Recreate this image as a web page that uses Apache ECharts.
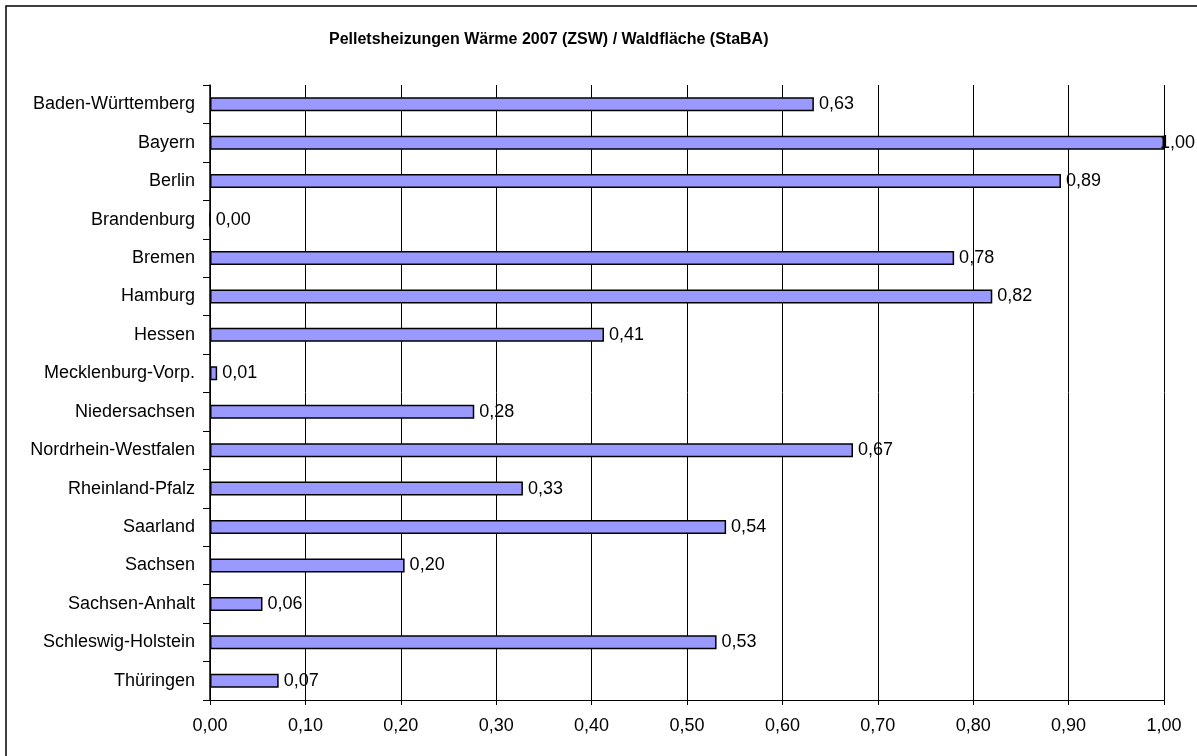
<!DOCTYPE html>
<html>
<head>
<meta charset="utf-8">
<script src="https://cdn.jsdelivr.net/npm/echarts@6/dist/echarts.min.js"></script>
<style>
  html, body { margin: 0; padding: 0; background: #fff; }
  #chart { width: 1197px; height: 756px; }
</style>
</head>
<body>
<div id="chart"></div>
<script>
var laender = ['Baden-Württemberg', 'Bayern', 'Berlin', 'Brandenburg', 'Bremen', 'Hamburg',
    'Hessen', 'Mecklenburg-Vorp.', 'Niedersachsen', 'Nordrhein-Westfalen', 'Rheinland-Pfalz',
    'Saarland', 'Sachsen', 'Sachsen-Anhalt', 'Schleswig-Holstein', 'Thüringen'];
var werte = [0.633, 1.0, 0.892, 0.0, 0.78, 0.82, 0.413, 0.0075, 0.277, 0.674, 0.328,
    0.541, 0.204, 0.055, 0.531, 0.072];

function komma(v) {
    return v.toFixed(2).replace('.', ',');
}

// label of the full-length bar sits on the axis end, like in the original
var balken = werte.map(function (v) {
    if (v >= 1) return { value: v, label: { distance: -4 } };
    return v;
});

var chart = echarts.init(document.getElementById('chart'));
var option = {
    animation: false,
    textStyle: { fontFamily: 'Liberation Sans, Arial, sans-serif' },
    title: {
        text: 'Pelletsheizungen Wärme 2007 (ZSW) / Waldfläche (StaBA)',
        left: 324,
        top: 27,
        textStyle: { fontSize: 16, fontWeight: 'bold', color: '#000' }
    },
    graphic: [{
        type: 'rect',
        shape: { x: 6, y: 6, width: 1200, height: 760 },
        style: { fill: null, stroke: '#000', lineWidth: 1.5 },
        silent: true
    }],
    grid: { left: 210, right: 33, top: 85, bottom: 56 },
    xAxis: {
        type: 'value',
        min: 0,
        max: 1,
        interval: 0.1,
        axisLine: { show: true, lineStyle: { color: '#000', width: 1 } },
        axisTick: { show: true, length: 5, lineStyle: { color: '#000' } },
        splitLine: { show: true, lineStyle: { color: '#000', width: 1 } },
        axisLabel: {
            fontSize: 18,
            color: '#000',
            margin: 17,
            formatter: function (v) { return komma(v); }
        }
    },
    yAxis: {
        type: 'category',
        inverse: true,
        data: laender,
        axisLine: { show: true, lineStyle: { color: '#000', width: 1.5 } },
        axisTick: { show: true, length: 7, lineStyle: { color: '#000' } },
        axisLabel: { fontSize: 18, color: '#000', margin: 15 }
    },
    series: [{
        type: 'bar',
        data: balken,
        barWidth: 14,
        itemStyle: { color: '#9999ff', borderColor: '#000', borderWidth: 1.5 },
        label: {
            show: true,
            position: 'right',
            distance: 5,
            fontSize: 18,
            color: '#000',
            formatter: function (p) { return komma(p.value); }
        }
    }]
};
chart.setOption(option);
</script>
</body>
</html>
